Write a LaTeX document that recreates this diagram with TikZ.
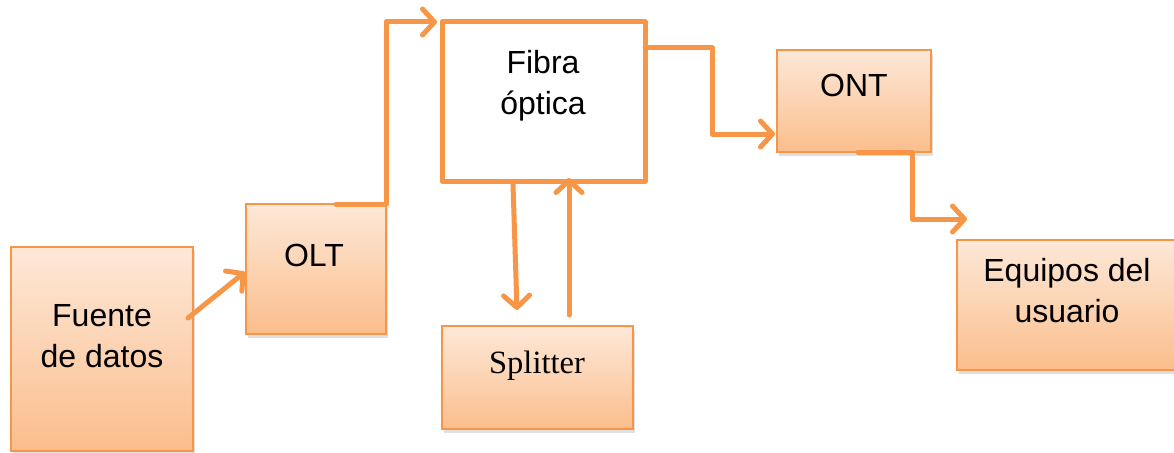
\documentclass[tikz,border=0pt]{standalone}
\usepackage{fontspec}
\setmainfont{Liberation Sans}
\newfontfamily\serifface{Liberation Serif}
\usetikzlibrary{arrows.meta,shadows}
\definecolor{org}{HTML}{F79646}
\definecolor{topc}{RGB}{253,232,216}
\definecolor{botc}{RGB}{251,190,140}
\tikzset{
  boxbase/.style={inner sep=0pt, outer sep=0pt},
  gbox/.style={boxbase, draw=org, line width=2pt, top color=topc, bottom color=botc,
    drop shadow={opacity=0.25, shadow xshift=2pt, shadow yshift=-4pt}},
  wbox/.style={boxbase, draw=org, line width=5pt, fill=white, line join=round},
  conn/.style={draw=org, line width=5pt, line cap=round, line join=round,
    -{Straight Barb[length=12pt,width=26pt,line cap=round,line join=round]}},
  lbl/.style={font=\fontsize{32}{41}\selectfont, align=center, inner sep=0pt, text=black}
}
\begin{document}
\begin{tikzpicture}[x=1pt,y=1pt]
\useasboundingbox (0,0) rectangle (1174,-452);
\clip (0,0) rectangle (1174,-452);
\fill[white] (0,0) rectangle (1174,-452);
% boxes
\node[gbox, minimum width=182pt, minimum height=204pt] (fuente) at (102,-349) {};
\node[gbox, minimum width=140pt, minimum height=130pt] (olt) at (316,-269) {};
\node[wbox, minimum width=203pt, minimum height=159pt] (fibra) at (543.5,-101.5) {};
\node[gbox, minimum width=191pt, minimum height=103pt] (split) at (537.5,-377.5) {};
\node[gbox, minimum width=154pt, minimum height=102pt] (ont) at (854,-101) {};
\node[gbox, minimum width=228pt, minimum height=130pt] (equipos) at (1071,-305) {};
% texts
\node[lbl] (tfuente) at (102,-336) {Fuente\\de datos};
\node[lbl] (tolt) at (314,-255) {OLT};
\node[lbl] (tfibra) at (543,-86) {Fibra\\óptica};
\node[lbl, font=\serifface\fontsize{32.5}{38}\selectfont] (tsplit) at (537,-366) {Splitter};
\node[lbl] (tont) at (854,-85) {ONT};
\node[lbl] (tequipos) at (1067,-291) {Equipos del\\usuario};
% connector endpoints
\coordinate (a1) at (188,-318);
\coordinate (a2) at (245,-272);
\coordinate (b1) at (336,-204);
\coordinate (b2) at (437,-22);
\coordinate (c1) at (645,-48);
\coordinate (c2) at (775,-134);
\coordinate (d1) at (858,-152);
\coordinate (d2) at (967,-219);
\coordinate (e1) at (513,-184);
\coordinate (e2) at (517,-310);
\coordinate (f1) at (569,-315);
\coordinate (f2) at (569,-178);
% connectors
\draw[conn] (a1) -- (a2);
\draw[conn] (b1) -- (386,-204) -- (386,-22) -- (b2);
\draw[conn] (c1) -- (712,-48) -- (712,-134) -- (c2);
\draw[conn] (d1) -- (912,-152) -- (912,-219) -- (d2);
\draw[conn] (e1) -- (e2);
\draw[conn] (f1) -- (f2);
\end{tikzpicture}
\end{document}
